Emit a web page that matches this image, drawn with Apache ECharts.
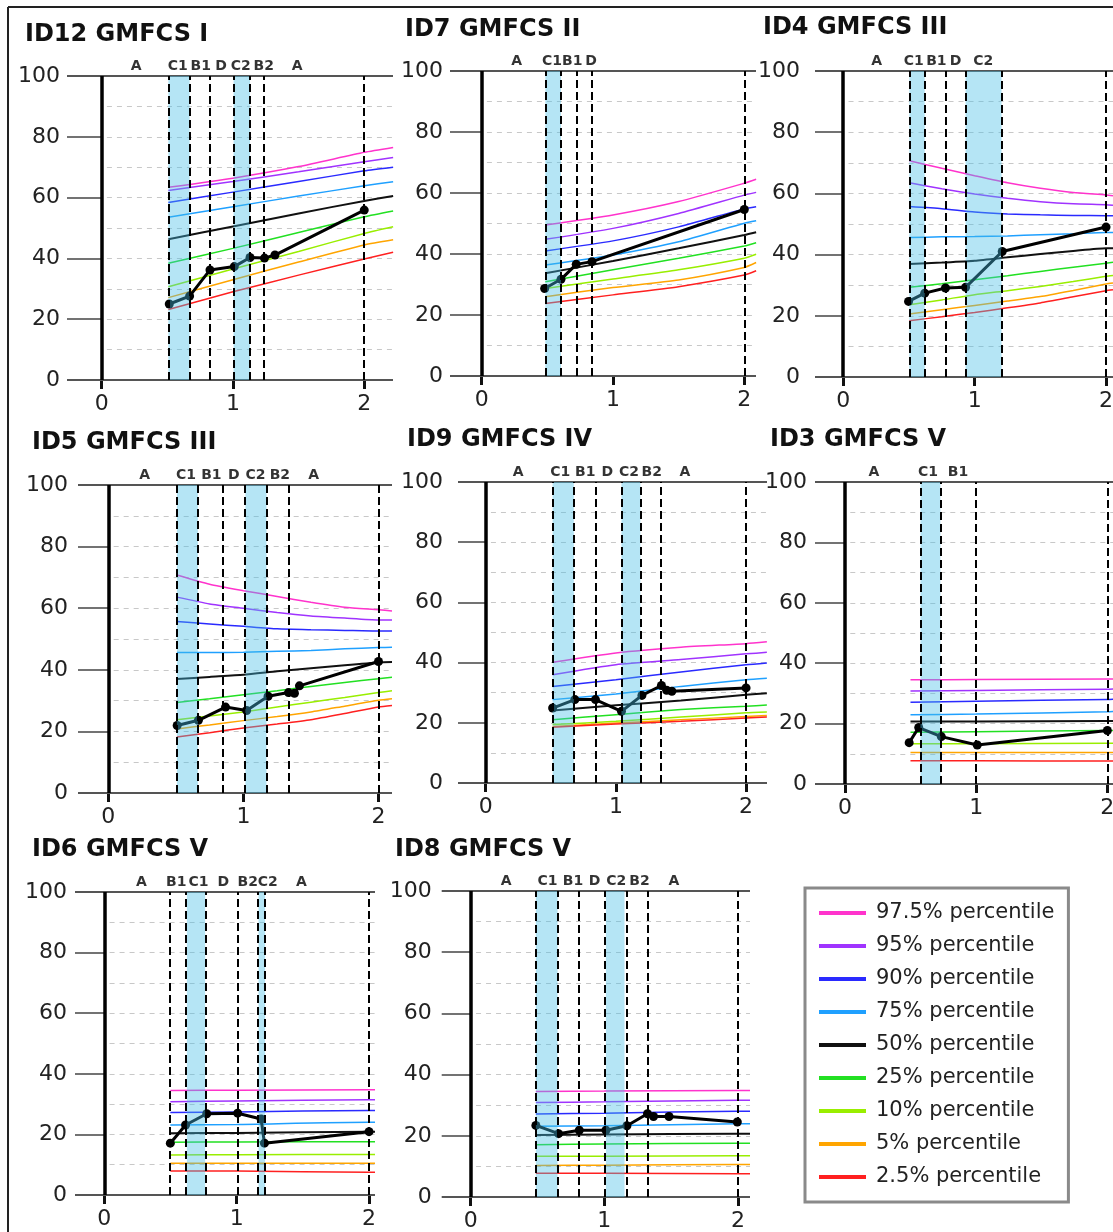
<!DOCTYPE html>
<html>
<head>
<meta charset="utf-8">
<script src="https://cdn.jsdelivr.net/npm/echarts@6/dist/echarts.min.js"></script>
<style>
  html, body { margin: 0; padding: 0; background: #fff; }
  #chart { width: 1113px; height: 1232px; }
</style>
</head>
<body>
<div id="chart"></div>
<script>
// percentile bands (legend order)
const PCT_NAMES = ['97.5% percentile', '95% percentile', '90% percentile', '75% percentile',
  '50% percentile', '25% percentile', '10% percentile', '5% percentile', '2.5% percentile']
const PCT_COLORS = ['#ff33cc', '#a033ff', '#2a2aff', '#1fa0ff', '#111111',
  '#22e022', '#99ee00', '#ffa500', '#ff2020']

const X_TICKS = [0, 1, 2]
const Y_MAJOR = [20, 40, 60, 80]
const Y_MINOR = [10, 20, 30, 40, 50, 60, 70, 80, 90]

// ID12 GMFCS I
const id12_bounds = [0.508, 0.670, 0.825, 1.005, 1.13, 1.235, 2.0]
const id12_shade = [[0.508, 0.670], [1.005, 1.13]]
const id12_phases = ['A', 'C1', 'B1', 'D', 'C2', 'B2', 'A']
const id12_phaseX = [0.263, 0.58, 0.755, 0.91, 1.06, 1.235, 1.49]
const id12_age = [0.515, 0.67, 0.825, 1.01, 1.13, 1.24, 1.32, 2.0]
const id12_score = [25.0, 27.6, 36.2, 37.3, 40.3, 40.1, 41.1, 55.9]
const id12_pctX = [0.508, 1.0, 1.5, 2.0, 2.22]
const id12_pct = [
  [63.4, 66.4, 70.2, 74.9, 76.5],
  [62.3, 65.3, 68.5, 71.8, 73.2],
  [58.4, 61.8, 65.3, 68.8, 70.0],
  [53.5, 57.0, 60.5, 63.9, 65.2],
  [46.3, 50.5, 54.8, 58.9, 60.5],
  [38.4, 43.3, 48.5, 53.7, 55.6],
  [30.7, 36.5, 42.3, 48.2, 50.4],
  [27.1, 33.0, 38.8, 44.4, 46.1],
  [23.2, 29.0, 34.5, 39.8, 42.0]
]

// ID7 GMFCS II
const id7_bounds = [0.485, 0.604, 0.721, 0.841, 2.0]
const id7_shade = [[0.485, 0.604]]
const id7_phases = ['A', 'C1', 'B1', 'D']
const id7_phaseX = [0.266, 0.535, 0.69, 0.833]
const id7_age = [0.48, 0.604, 0.72, 0.84, 2.0]
const id7_score = [28.7, 31.7, 36.6, 37.5, 54.6]
const id7_pctX = [0.485, 1.0, 1.5, 2.0, 2.09]
const id7_pct = [
  [49.5, 52.8, 57.2, 63.2, 64.5],
  [44.8, 48.4, 53.3, 59.3, 60.2],
  [41.0, 44.3, 48.9, 54.8, 55.5],
  [36.4, 39.7, 44.0, 50.1, 50.9],
  [33.7, 37.7, 41.9, 46.2, 47.1],
  [30.9, 34.8, 38.6, 42.6, 43.7],
  [28.7, 31.8, 34.8, 38.6, 39.9],
  [26.0, 29.0, 31.5, 35.6, 37.2],
  [23.8, 26.6, 29.3, 33.1, 34.5]
]

// ID4 GMFCS III
const id4_bounds = [0.503, 0.62, 0.778, 0.931, 1.205, 2.0]
const id4_shade = [[0.503, 0.62], [0.931, 1.205]]
const id4_phases = ['A', 'C1', 'B1', 'D', 'C2']
const id4_phaseX = [0.255, 0.536, 0.709, 0.855, 1.066]
const id4_age = [0.497, 0.62, 0.778, 0.931, 1.21, 2.0]
const id4_score = [24.7, 27.4, 29.1, 29.3, 41.0, 49.0]
const id4_pctX = [0.503, 0.75, 1.0, 1.25, 1.5, 1.75, 2.0, 2.053]
const id4_pct = [
  [70.7, 68.2, 65.8, 63.5, 61.7, 60.3, 59.5, 59.2],
  [63.5, 61.5, 59.8, 58.4, 57.3, 56.6, 56.3, 56.1],
  [55.7, 55.0, 53.9, 53.3, 53.0, 52.8, 52.7, 52.7],
  [45.6, 45.8, 45.9, 46.1, 46.5, 46.8, 47.2, 47.2],
  [36.9, 37.4, 38.0, 39.1, 40.2, 41.2, 42.1, 42.1],
  [29.3, 30.5, 31.8, 33.1, 34.5, 35.9, 37.2, 37.5],
  [23.6, 25.2, 26.9, 28.2, 29.6, 31.2, 32.9, 33.2],
  [20.6, 22.0, 23.4, 24.8, 26.3, 28.3, 30.4, 30.7],
  [18.4, 19.7, 21.1, 22.6, 24.2, 26.2, 28.2, 28.5]
]

// ID5 GMFCS III
const id5_bounds = [0.508, 0.663, 0.85, 1.012, 1.171, 1.334, 2.0]
const id5_shade = [[0.508, 0.663], [1.015, 1.171]]
const id5_phases = ['A', 'C1', 'B1', 'D', 'C2', 'B2', 'A']
const id5_phaseX = [0.27, 0.575, 0.763, 0.93, 1.09, 1.27, 1.52]
const id5_age = [0.51, 0.667, 0.868, 1.024, 1.183, 1.334, 1.378, 1.415, 2.0]
const id5_score = [21.9, 23.6, 27.9, 26.8, 31.4, 32.6, 32.4, 34.8, 42.7]
const id5_pctX = [0.508, 0.75, 1.0, 1.25, 1.5, 1.75, 2.0, 2.10]
const id5_pct = [
  [70.8, 67.8, 65.7, 63.8, 61.9, 60.3, 59.5, 59.1],
  [63.6, 61.4, 60.0, 58.6, 57.5, 56.8, 56.2, 56.2],
  [55.7, 54.9, 54.1, 53.3, 53.0, 52.8, 52.6, 52.6],
  [45.6, 45.6, 45.7, 46.0, 46.3, 46.8, 47.2, 47.3],
  [37.0, 37.7, 38.4, 39.5, 40.5, 41.5, 42.4, 42.5],
  [29.4, 30.6, 31.9, 33.2, 34.6, 35.9, 37.1, 37.6],
  [23.8, 25.0, 26.3, 27.9, 29.5, 31.0, 32.6, 33.2],
  [20.8, 22.1, 23.5, 24.8, 26.3, 28.2, 30.1, 30.6],
  [18.2, 19.6, 21.1, 22.4, 23.8, 25.8, 27.9, 28.4]
]

// ID9 GMFCS IV
const id9_bounds = [0.514, 0.677, 0.843, 1.043, 1.188, 1.348, 2.0]
const id9_shade = [[0.514, 0.677], [1.043, 1.188]]
const id9_phases = ['A', 'C1', 'B1', 'D', 'C2', 'B2', 'A']
const id9_phaseX = [0.25, 0.572, 0.764, 0.934, 1.1, 1.275, 1.53]
const id9_age = [0.514, 0.685, 0.843, 1.043, 1.2, 1.35, 1.39, 1.43, 2.0]
const id9_score = [24.9, 27.7, 27.7, 23.8, 29.1, 32.4, 30.8, 30.5, 31.6]
const id9_pctX = [0.514, 1.0, 1.5, 2.0, 2.16]
const id9_pct = [
  [40.1, 43.2, 45.1, 46.3, 46.9],
  [36.0, 39.3, 41.0, 42.9, 43.4],
  [32.1, 34.3, 36.9, 39.3, 39.9],
  [27.7, 29.6, 32.1, 34.3, 34.8],
  [24.1, 25.8, 27.4, 29.3, 29.8],
  [21.0, 22.7, 24.4, 25.5, 25.9],
  [19.4, 20.5, 21.9, 23.3, 23.6],
  [18.8, 19.9, 21.0, 22.1, 22.4],
  [18.5, 19.6, 20.5, 21.6, 21.9]
]

// ID3 GMFCS V
const id3_bounds = [0.575, 0.727, 1.0, 2.0]
const id3_shade = [[0.575, 0.727]]
const id3_phases = ['A', 'C1', 'B1']
const id3_phaseX = [0.22, 0.633, 0.861]
const id3_age = [0.489, 0.562, 0.734, 1.008, 2.0]
const id3_score = [13.7, 18.7, 15.7, 12.9, 17.7]
const id3_pctX = [0.499, 1.0, 2.0, 2.05]
const id3_pct = [
  [34.5, 34.6, 34.8, 34.8],
  [30.8, 31.0, 31.4, 31.5],
  [27.1, 27.4, 28.0, 28.1],
  [22.9, 23.2, 23.9, 24.0],
  [20.7, 20.7, 20.9, 20.9],
  [17.1, 17.3, 17.7, 17.7],
  [13.3, 13.3, 13.5, 13.5],
  [10.4, 10.4, 10.4, 10.4],
  [7.7, 7.7, 7.6, 7.6]
]

// ID6 GMFCS V
const id6_bounds = [0.494, 0.614, 0.769, 1.0075, 1.16, 1.215, 2.0]
const id6_shade = [[0.624, 0.762], [1.165, 1.215]]
const id6_phases = ['A', 'B1', 'C1', 'D', 'B2', 'C2', 'A']
const id6_phaseX = [0.28, 0.544, 0.712, 0.9, 1.084, 1.235, 1.49]
const id6_age = [0.499, 0.614, 0.774, 1.0075, 1.185, 1.21, 2.0]
const id6_score = [17.1, 23.1, 26.8, 27.0, 25.1, 17.1, 20.9]
const id6_pctX = [0.499, 1.0, 2.0, 2.045]
const id6_pct = [
  [34.5, 34.6, 34.7, 34.7],
  [30.8, 31.0, 31.4, 31.4],
  [27.2, 27.4, 27.9, 27.9],
  [23.1, 23.3, 24.0, 24.0],
  [20.4, 20.5, 20.9, 20.9],
  [17.4, 17.5, 17.6, 17.6],
  [13.2, 13.3, 13.4, 13.4],
  [10.5, 10.5, 10.5, 10.5],
  [7.9, 7.9, 7.5, 7.5]
]

// ID8 GMFCS V
const id8_bounds = [0.4875, 0.65, 0.8075, 1.0, 1.164, 1.323, 2.0]
const id8_shade = [[0.4875, 0.65], [1.012, 1.151]]
const id8_phases = ['A', 'C1', 'B1', 'D', 'C2', 'B2', 'A']
const id8_phaseX = [0.265, 0.575, 0.765, 0.9275, 1.089, 1.263, 1.521]
const id8_age = [0.4875, 0.6575, 0.8125, 1.012, 1.169, 1.323, 1.368, 1.484, 1.995]
const id8_score = [23.4, 20.7, 21.8, 21.8, 23.3, 27.2, 26.3, 26.3, 24.5]
const id8_pctX = [0.4875, 1.0, 2.0, 2.09]
const id8_pct = [
  [34.5, 34.6, 34.8, 34.8],
  [30.9, 31.1, 31.6, 31.6],
  [27.1, 27.4, 28.0, 28.0],
  [23.1, 23.3, 23.9, 23.9],
  [20.3, 20.4, 20.7, 20.7],
  [17.1, 17.3, 17.6, 17.6],
  [13.3, 13.3, 13.5, 13.5],
  [10.3, 10.4, 10.6, 10.6],
  [7.8, 7.8, 7.6, 7.6]
]

// panel placement (pixels) and axis range
const panels = [
  { title: 'ID12 GMFCS I', tx: 25, ty: 35, l: 67, r: 393, t: 76, b: 380, xmin: -0.264, xmax: 2.219, lm: 7,
    bounds: id12_bounds, shade: id12_shade, phases: id12_phases, phaseX: id12_phaseX, age: id12_age, score: id12_score, pctX: id12_pctX, pct: id12_pct },
  { title: 'ID7 GMFCS II', tx: 405, ty: 30, l: 450, r: 756, t: 71, b: 376, xmin: -0.241, xmax: 2.089, lm: 7,
    bounds: id7_bounds, shade: id7_shade, phases: id7_phases, phaseX: id7_phaseX, age: id7_age, score: id7_score, pctX: id7_pctX, pct: id7_pct },
  { title: 'ID4 GMFCS III', tx: 763, ty: 28, l: 815, r: 1113, t: 71, b: 377, xmin: -0.215, xmax: 2.053, lm: 15,
    bounds: id4_bounds, shade: id4_shade, phases: id4_phases, phaseX: id4_phaseX, age: id4_age, score: id4_score, pctX: id4_pctX, pct: id4_pct },
  { title: 'ID5 GMFCS III', tx: 32, ty: 443, l: 78, r: 392, t: 485, b: 793, xmin: -0.224, xmax: 2.10, lm: 10,
    bounds: id5_bounds, shade: id5_shade, phases: id5_phases, phaseX: id5_phaseX, age: id5_age, score: id5_score, pctX: id5_pctX, pct: id5_pct },
  { title: 'ID9 GMFCS IV', tx: 407, ty: 440, l: 458, r: 767, t: 482, b: 783, xmin: -0.213, xmax: 2.161, lm: 15,
    bounds: id9_bounds, shade: id9_shade, phases: id9_phases, phaseX: id9_phaseX, age: id9_age, score: id9_score, pctX: id9_pctX, pct: id9_pct },
  { title: 'ID3 GMFCS V', tx: 770, ty: 440, l: 815, r: 1113, t: 482, b: 784, xmin: -0.229, xmax: 2.043, lm: 8,
    bounds: id3_bounds, shade: id3_shade, phases: id3_phases, phaseX: id3_phaseX, age: id3_age, score: id3_score, pctX: id3_pctX, pct: id3_pct },
  { title: 'ID6 GMFCS V', tx: 32, ty: 850, l: 75, r: 375, t: 892, b: 1195, xmin: -0.221, xmax: 2.045, lm: 8,
    bounds: id6_bounds, shade: id6_shade, phases: id6_phases, phaseX: id6_phaseX, age: id6_age, score: id6_score, pctX: id6_pctX, pct: id6_pct },
  { title: 'ID8 GMFCS V', tx: 395, ty: 850, l: 441.7, r: 750, t: 891, b: 1197, xmin: -0.217, xmax: 2.09, lm: 10,
    bounds: id8_bounds, shade: id8_shade, phases: id8_phases, phaseX: id8_phaseX, age: id8_age, score: id8_score, pctX: id8_pctX, pct: id8_pct }
]

const FONT = '"DejaVu Sans", sans-serif'
const zip = (xs, ys) => xs.map((x, i) => [x, ys[i]])
const seg = (x1, y1, x2, y2, style) => [{ coord: [x1, y1], lineStyle: style }, { coord: [x2, y2] }]

const grid = [], xAxis = [], yAxis = [], series = [], graphic = []

panels.forEach((p, i) => {
  grid.push({ left: p.l, top: p.t, width: p.r - p.l, height: p.b - p.t, outerBoundsMode: 'none' })
  xAxis.push({
    type: 'value', gridIndex: i, min: p.xmin, max: p.xmax,
    axisLine: { show: false }, splitLine: { show: false },
    axisTick: { customValues: X_TICKS, length: 9, lineStyle: { width: 3, color: '#111' } },
    axisLabel: { customValues: X_TICKS, fontSize: 22, color: '#222', fontFamily: FONT, margin: 13 }
  })
  yAxis.push({
    type: 'value', gridIndex: i, min: 0, max: 100, interval: 20,
    axisLine: { show: false }, axisTick: { show: false }, splitLine: { show: false },
    axisLabel: { fontSize: 22, color: '#222', fontFamily: FONT, margin: p.lm }
  })

  // frame: minor dashed grid, tick stubs, 0/100 rules, y axis at x=0
  const minor = { color: '#c8c8c8', width: 1, type: [5, 5] }
  const stub = { color: '#444', width: 1.5, type: 'solid' }
  const rule = { color: '#555', width: 2, type: 'solid' }
  const frameLines = []
  Y_MINOR.forEach(v => frameLines.push(seg(0.04, v, p.xmax, v, minor)))
  Y_MAJOR.forEach(v => frameLines.push(seg(p.xmin, v, 0, v, stub)))
  ;[0, 100].forEach(v => frameLines.push(seg(p.xmin, v, p.xmax, v, rule)))
  frameLines.push(seg(0, 0, 0, 100, { color: '#000', width: 3.5, type: 'solid' }))
  series.push({
    type: 'line', xAxisIndex: i, yAxisIndex: i, data: [], silent: true, z: 1,
    markLine: { symbol: ['none', 'none'], silent: true, label: { show: false }, z: 1, data: frameLines }
  })

  // percentile curves
  p.pct.forEach((vals, k) => {
    series.push({
      name: PCT_NAMES[k], type: 'line', xAxisIndex: i, yAxisIndex: i, z: 2,
      data: zip(p.pctX, vals), showSymbol: false, smooth: 0.2, silent: true,
      lineStyle: { color: PCT_COLORS[k], width: k === 4 ? 2 : 1.5 }, itemStyle: { color: PCT_COLORS[k] }
    })
  })

  // patient scores
  series.push({
    type: 'line', xAxisIndex: i, yAxisIndex: i, z: 3, data: zip(p.age, p.score),
    symbol: 'circle', symbolSize: 9, silent: true,
    lineStyle: { color: '#000', width: 3 }, itemStyle: { color: '#000' }
  })

  // shaded C phases (semi-transparent, over the curves) + phase boundaries
  series.push({
    type: 'line', xAxisIndex: i, yAxisIndex: i, data: [], silent: true, z: 4,
    markArea: {
      silent: true, z: 4, itemStyle: { color: 'rgba(70,190,230,0.4)' },
      data: p.shade.map(s => [{ coord: [s[0], 0] }, { coord: [s[1], 100] }])
    },
    markLine: {
      symbol: ['none', 'none'], silent: true, label: { show: false }, z: 5,
      lineStyle: { color: '#000', width: 2, type: [8, 4] },
      data: p.bounds.map(x => seg(x, 0, x, 100))
    }
  })

  // phase names over the panel
  series.push({
    type: 'scatter', xAxisIndex: i, yAxisIndex: i, z: 6, symbolSize: 0, clip: false, silent: true,
    data: p.phaseX.map((x, k) => ({ value: [x, 100], name: p.phases[k] })),
    label: {
      show: true, position: 'top', distance: 3, formatter: '{b}',
      fontSize: 14, fontWeight: 'bold', color: '#000', fontFamily: FONT
    }
  })

  graphic.push({
    type: 'text', x: p.tx, y: p.ty, silent: true,
    style: { text: p.title, font: 'bold 24px ' + FONT, fill: '#111', verticalAlign: 'middle' }
  })
})

// outer frame (left and top edges visible)
graphic.push({ type: 'line', silent: true, shape: { x1: 8, y1: 7, x2: 8, y2: 1232 }, style: { stroke: '#222', lineWidth: 2 } })
graphic.push({ type: 'line', silent: true, shape: { x1: 8, y1: 7, x2: 1113, y2: 7 }, style: { stroke: '#222', lineWidth: 2 } })

const chart = echarts.init(document.getElementById('chart'), null, { renderer: 'canvas' })
chart.setOption({
  animation: false,
  backgroundColor: '#fff',
  grid, xAxis, yAxis, series, graphic,
  legend: {
    data: PCT_NAMES, orient: 'vertical', left: 805, top: 888,
    padding: [13, 14, 13, 14], itemWidth: 47, itemHeight: 4, itemGap: 9, icon: 'rect',
    borderColor: '#8a8a8a', borderWidth: 3, selectedMode: false,
    textStyle: { fontSize: 21, lineHeight: 24, color: '#222', fontFamily: FONT, padding: [0, 0, 0, 5] }
  }
})
</script>
</body>
</html>
